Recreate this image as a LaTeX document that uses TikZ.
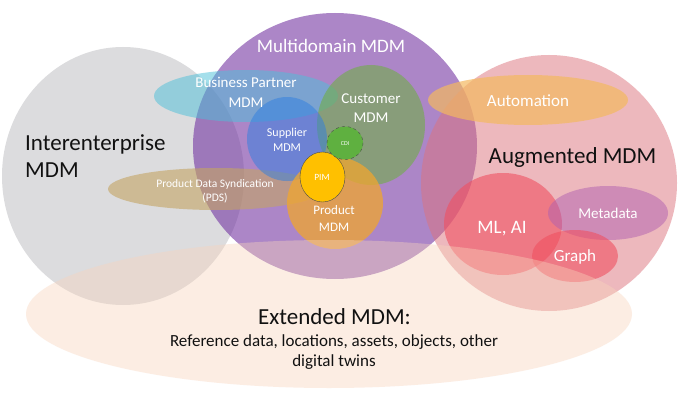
\documentclass[tikz,border=0pt]{standalone}
\usepackage{fontspec}
\setmainfont{Carlito}
\definecolor{ink}{HTML}{111111}
\definecolor{greyset}{HTML}{DCDCDE}
\definecolor{violet}{HTML}{7030A0}
\definecolor{rosy}{HTML}{DD737D}
\definecolor{peach}{HTML}{F8D4BB}
\definecolor{cyan}{HTML}{4BC0D9}
\definecolor{tan}{HTML}{C4A463}
\definecolor{leaf}{HTML}{70AD47}
\definecolor{azure}{HTML}{2F7FE0}
\definecolor{amber}{HTML}{F0A630}
\definecolor{gold}{HTML}{FFC000}
\definecolor{lime}{HTML}{5FB040}
\definecolor{apricot}{HTML}{F4B860}
\definecolor{coral}{HTML}{F05060}
\definecolor{mauve}{HTML}{B060B0}

\begin{document}
\begin{tikzpicture}[x=1pt,y=-1pt,
  tag/.style={text=white,align=center,inner sep=0pt},
  bigtag/.style={text=ink,align=left,inner sep=0pt,font=\fontsize{23}{27}\selectfont}]
  \useasboundingbox[fill=white] (0,0) rectangle (680,396);
  \fill[greyset] (123,176) ellipse [x radius=121,y radius=129];
  \fill[violet,fill opacity=.58] (335,146) ellipse [x radius=142,y radius=133];
  \fill[rosy,fill opacity=.5] (549,183) ellipse [x radius=128,y radius=128];
  \fill[cyan,fill opacity=.5] (246,96) ellipse [x radius=92,y radius=26];
  \fill[tan,fill opacity=.6] (216,189) ellipse [x radius=108,y radius=21];
  \fill[leaf,fill opacity=.6] (371,125) ellipse [x radius=54,y radius=60];
  \fill[azure,fill opacity=.5] (287,139) ellipse [x radius=40,y radius=42];
  \fill[amber,fill opacity=.75] (335,203) ellipse [x radius=48,y radius=46];
  \draw[ink!75,fill=gold] (322.5,177) ellipse [x radius=22.5,y radius=25];
  \draw[ink!75,dashed,fill=lime] (345,143) ellipse [x radius=18,y radius=16.5];
  \fill[apricot,fill opacity=.7] (528,100) ellipse [x radius=100,y radius=25];
  \fill[coral,fill opacity=.6] (503,224) ellipse [x radius=59,y radius=51];
  \fill[mauve,fill opacity=.5] (608,213) ellipse [x radius=60,y radius=27];
  \fill[coral,fill opacity=.6] (575,256) ellipse [x radius=43,y radius=26];
  \fill[peach,fill opacity=.4] (329,314) ellipse [x radius=303,y radius=74];
  \node[bigtag,anchor=west] (inter) at (25,156) {Interenterprise\\MDM};
  \node[bigtag,anchor=base] (augm) at (572.5,163) {Augmented MDM};
  \node[bigtag,anchor=base] (ext) at (334.5,324) {Extended MDM:};
  \node[text=ink,align=center,inner sep=0pt,anchor=north,font=\fontsize{17}{20}\selectfont] (extsub) at (334,334.5) {Reference data, locations, assets, objects, other\\digital twins};
  \node[tag,anchor=base,font=\fontsize{19}{22}\selectfont] (multi) at (331,53) {Multidomain MDM};
  \node[tag,font=\fontsize{15}{20}\selectfont] (bp) at (246,92) {Business Partner\\MDM};
  \node[tag,font=\fontsize{15}{19}\selectfont] (cust) at (371,108) {Customer\\MDM};
  \node[tag,font=\fontsize{12}{15}\selectfont] (supp) at (287,139.5) {Supplier\\MDM};
  \node[tag,anchor=base,font=\fontsize{6}{7}\selectfont] (cdi) at (345,145) {CDI};
  \node[tag,anchor=base,font=\fontsize{9.5}{11}\selectfont] (pim) at (322,180) {PIM};
  \node[tag,font=\fontsize{13}{17}\selectfont] (prod) at (334,218) {Product\\MDM};
  \node[tag,font=\fontsize{11.5}{14}\selectfont] (pds) at (215,191.5) {Product Data Syndication\\(PDS)};
  \node[tag,anchor=base,font=\fontsize{17}{20}\selectfont] (auto) at (528,106.5) {Automation};
  \node[tag,anchor=base,font=\fontsize{19}{22}\selectfont] (ml) at (502,233) {ML, AI};
  \node[tag,anchor=base,font=\fontsize{15}{18}\selectfont] (meta) at (608,218) {Metadata};
  \node[tag,anchor=base,font=\fontsize{17}{20}\selectfont] (graph) at (575,261.5) {Graph};
\end{tikzpicture}
\end{document}
